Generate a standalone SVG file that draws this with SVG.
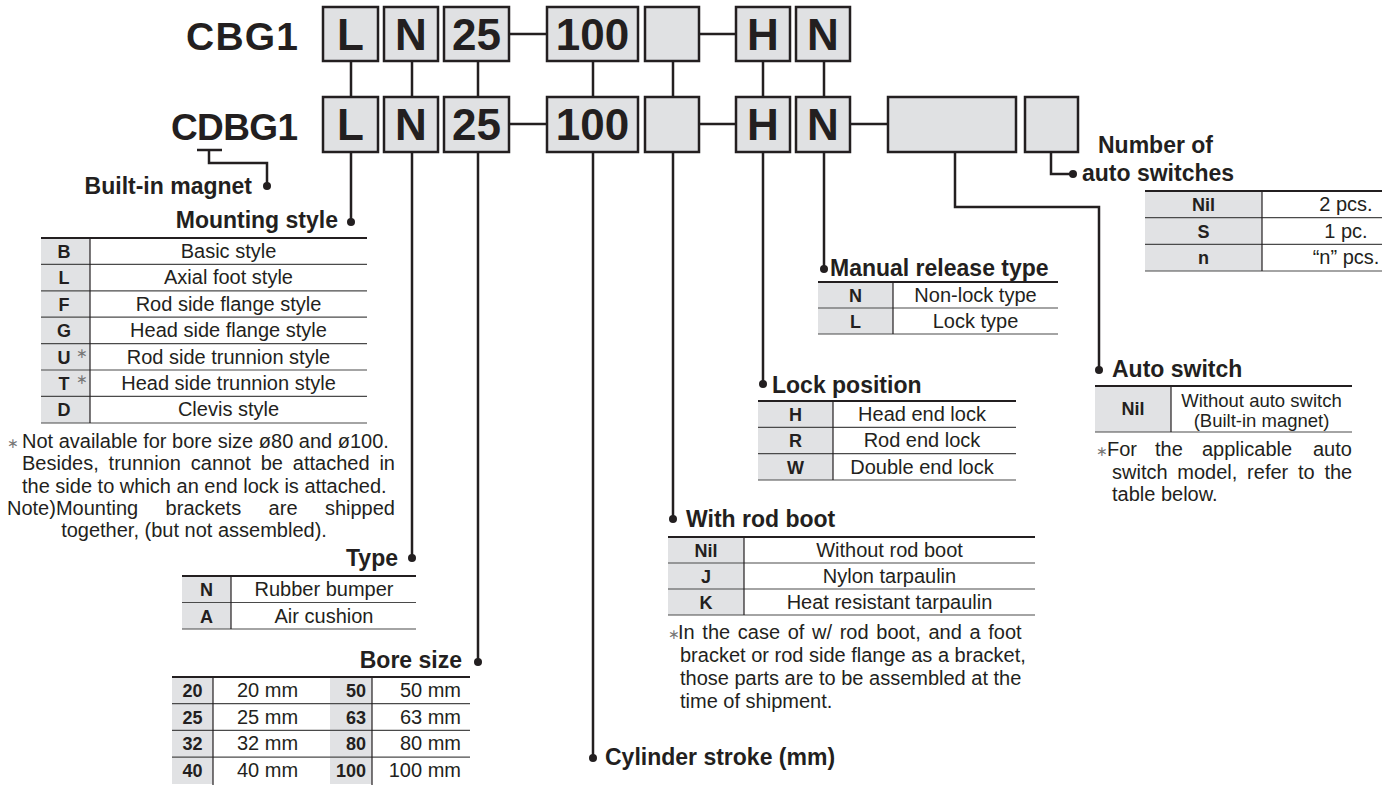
<svg xmlns="http://www.w3.org/2000/svg" width="1382" height="785" viewBox="0 0 1382 785">
<defs><style>
text{font-family:"Liberation Sans",Arial,Helvetica,sans-serif;fill:#231f20}
.box{fill:#e0e1e3;stroke:#231f20;stroke-width:2.5}
.big{font-size:44px;font-weight:bold;text-anchor:middle}
.model{font-weight:bold;text-anchor:end}
.h{font-size:23px;font-weight:bold}
.t{font-size:20px}
.c{text-anchor:middle}
.k{font-size:18px;font-weight:bold;text-anchor:middle}
.e{text-anchor:end}
.kc{fill:#e1e2e4}
.tl{stroke:#231f20;stroke-width:2.2}
.rl{stroke:#4a4a4a;stroke-width:1.2}
.vl{stroke:#231f20;stroke-width:1.2}
.conn{fill:none;stroke:#231f20;stroke-width:2.5}
.dot{fill:#231f20}
.ast{font-size:14px;fill:#777}
</style></defs>
<rect width="1382" height="785" fill="#fff"/>

<g id="connectors">
<path class="conn" d="M509,34H547M699,34H736M509,124H547M699,124H736M850,124H888"/>
<path class="conn" d="M197,150H222M209,150V163H267V186"/>
<path class="conn" d="M351,61V97M351,152V222"/>
<path class="conn" d="M412,61V97M412,152V558"/>
<path class="conn" d="M478,61V97M478,152V662"/>
<path class="conn" d="M593,61V97M593,152V758"/>
<path class="conn" d="M673,61V97M673,152V519"/>
<path class="conn" d="M763,61V97M763,152V384"/>
<path class="conn" d="M824,61V97M824,152V269"/>
<path class="conn" d="M955,152V207H1099V370"/>
<path class="conn" d="M1051,152V174H1073"/>
<circle class="dot" cx="267" cy="186" r="4"/>
<circle class="dot" cx="351" cy="222" r="4"/>
<circle class="dot" cx="412" cy="558" r="4"/>
<circle class="dot" cx="478" cy="662" r="4"/>
<circle class="dot" cx="593" cy="758" r="4"/>
<circle class="dot" cx="673" cy="519" r="4"/>
<circle class="dot" cx="763" cy="384" r="4"/>
<circle class="dot" cx="824" cy="269" r="4"/>
<circle class="dot" cx="1099" cy="370" r="4"/>
<circle class="dot" cx="1073" cy="174" r="4"/>
</g>

<g id="row-cbg1">
<text class="model" x="298" y="50" font-size="39" textLength="112">CBG1</text>
<g id="r1-L"><rect class="box" x="323" y="7" width="55" height="54"/><text class="big" x="350.5" y="50">L</text></g>
<g id="r1-N"><rect class="box" x="384" y="7" width="54" height="54"/><text class="big" x="411" y="50">N</text></g>
<g id="r1-25"><rect class="box" x="444" y="7" width="65" height="54"/><text class="big" x="476.5" y="50">25</text></g>
<g id="r1-100"><rect class="box" x="547" y="7" width="91" height="54"/><text class="big" x="592.5" y="50">100</text></g>
<g id="r1-boot"><rect class="box" x="645" y="7" width="54" height="54"/></g>
<g id="r1-H"><rect class="box" x="736" y="7" width="54" height="54"/><text class="big" x="763" y="50">H</text></g>
<g id="r1-N2"><rect class="box" x="796" y="7" width="54" height="54"/><text class="big" x="823" y="50">N</text></g>
</g>

<g id="row-cdbg1">
<text class="model" x="298" y="140" font-size="37" textLength="127">CDBG1</text>
<g id="r2-L"><rect class="box" x="323" y="97" width="55" height="55"/><text class="big" x="350.5" y="140">L</text></g>
<g id="r2-N"><rect class="box" x="384" y="97" width="54" height="55"/><text class="big" x="411" y="140">N</text></g>
<g id="r2-25"><rect class="box" x="444" y="97" width="65" height="55"/><text class="big" x="476.5" y="140">25</text></g>
<g id="r2-100"><rect class="box" x="547" y="97" width="91" height="55"/><text class="big" x="592.5" y="140">100</text></g>
<g id="r2-boot"><rect class="box" x="645" y="97" width="54" height="55"/></g>
<g id="r2-H"><rect class="box" x="736" y="97" width="54" height="55"/><text class="big" x="763" y="140">H</text></g>
<g id="r2-N2"><rect class="box" x="796" y="97" width="54" height="55"/><text class="big" x="823" y="140">N</text></g>
<g id="r2-switch"><rect class="box" x="888" y="97" width="128" height="55"/></g>
<g id="r2-num"><rect class="box" x="1025" y="97" width="53" height="55"/></g>
</g>

<g id="built-in-magnet">
<text class="h e" x="252" y="194">Built-in magnet</text>
</g>

<g id="mounting-style">
<text class="h e" x="338" y="228">Mounting style</text>
<rect class="kc" x="41" y="238" width="49" height="185"/>
<line class="rl" x1="41" y1="264.4" x2="367" y2="264.4"/>
<line class="rl" x1="41" y1="290.8" x2="367" y2="290.8"/>
<line class="rl" x1="41" y1="317.2" x2="367" y2="317.2"/>
<line class="rl" x1="41" y1="343.6" x2="367" y2="343.6"/>
<line class="rl" x1="41" y1="370" x2="367" y2="370"/>
<line class="rl" x1="41" y1="396.4" x2="367" y2="396.4"/>
<line class="rl" x1="41" y1="423" x2="367" y2="423"/>
<line class="vl" x1="90" y1="238" x2="90" y2="423"/>
<line class="tl" x1="41" y1="238" x2="367" y2="238"/>
<text class="k" x="64" y="258">B</text>
<text class="k" x="64" y="284.4">L</text>
<text class="k" x="64" y="310.8">F</text>
<text class="k" x="64" y="337.2">G</text>
<text class="k" x="64" y="363.6">U</text>
<text class="k" x="64" y="390">T</text>
<text class="k" x="64" y="416.4">D</text>
<text class="ast" x="76" y="358">∗</text>
<text class="ast" x="76" y="384.4">∗</text>
<text class="t c" x="228.5" y="258">Basic style</text>
<text class="t c" x="228.5" y="284.4">Axial foot style</text>
<text class="t c" x="228.5" y="310.8">Rod side flange style</text>
<text class="t c" x="228.5" y="337.2">Head side flange style</text>
<text class="t c" x="228.5" y="363.6">Rod side trunnion style</text>
<text class="t c" x="228.5" y="390">Head side trunnion style</text>
<text class="t c" x="228.5" y="416.4">Clevis style</text>
<text class="ast" x="7" y="448">∗</text>
<text class="t" x="22" y="448">Not available for bore size ø80 and ø100.</text>
<text class="t" y="470"><tspan x="22">Besides,</tspan><tspan x="108.6">trunnion</tspan><tspan x="190.8">cannot</tspan><tspan x="260.7">be</tspan><tspan x="292.8">attached</tspan><tspan x="379.4">in</tspan></text>
<text class="t" x="22" y="493">the side to which an end lock is attached.</text>
<text class="t" y="515"><tspan x="7">Note)Mounting</tspan><tspan x="165.6">brackets</tspan><tspan x="268.6">are</tspan><tspan x="324.9">shipped</tspan></text>
<text class="t c" x="194" y="537">together, (but not assembled).</text>
</g>

<g id="type">
<text class="h e" x="398" y="566">Type</text>
<rect class="kc" x="182" y="576" width="49" height="53"/>
<line class="rl" x1="182" y1="602.5" x2="416" y2="602.5"/>
<line class="rl" x1="182" y1="629" x2="416" y2="629"/>
<line class="vl" x1="231" y1="576" x2="231" y2="629"/>
<line class="tl" x1="182" y1="576" x2="416" y2="576"/>
<text class="k" x="206.5" y="596">N</text>
<text class="k" x="206.5" y="622.5">A</text>
<text class="t c" x="324" y="596">Rubber bumper</text>
<text class="t c" x="324" y="622.5">Air cushion</text>
</g>

<g id="bore-size">
<text class="h e" x="462" y="668">Bore size</text>
<rect class="kc" x="172" y="677" width="41" height="107"/>
<rect class="kc" x="330" y="677" width="42" height="107"/>
<line class="rl" x1="172" y1="703.7" x2="470" y2="703.7"/>
<line class="rl" x1="172" y1="730.4" x2="470" y2="730.4"/>
<line class="rl" x1="172" y1="757.1" x2="470" y2="757.1"/>
<line class="vl" x1="213" y1="677" x2="213" y2="785"/>
<line class="vl" x1="372" y1="677" x2="372" y2="785"/>
<line class="tl" x1="172" y1="677" x2="470" y2="677"/>
<text class="k" x="192.5" y="697">20</text>
<text class="k" x="192.5" y="723.7">25</text>
<text class="k" x="192.5" y="750.4">32</text>
<text class="k" x="192.5" y="777.1">40</text>
<text class="t" x="237" y="697">20 mm</text>
<text class="t" x="237" y="723.7">25 mm</text>
<text class="t" x="237" y="750.4">32 mm</text>
<text class="t" x="237" y="777.1">40 mm</text>
<text class="k e" x="366" y="697">50</text>
<text class="k e" x="366" y="723.7">63</text>
<text class="k e" x="366" y="750.4">80</text>
<text class="k e" x="366" y="777.1">100</text>
<text class="t e" x="461" y="697">50 mm</text>
<text class="t e" x="461" y="723.7">63 mm</text>
<text class="t e" x="461" y="750.4">80 mm</text>
<text class="t e" x="461" y="777.1">100 mm</text>
</g>

<g id="cylinder-stroke">
<text class="h" x="605" y="765">Cylinder stroke (mm)</text>
</g>

<g id="rod-boot">
<text class="h" x="686" y="527">With rod boot</text>
<rect class="kc" x="668" y="537" width="76" height="78"/>
<line class="rl" x1="668" y1="563" x2="1035" y2="563"/>
<line class="rl" x1="668" y1="589" x2="1035" y2="589"/>
<line class="rl" x1="668" y1="615" x2="1035" y2="615"/>
<line class="vl" x1="744" y1="537" x2="744" y2="615"/>
<line class="tl" x1="668" y1="537" x2="1035" y2="537"/>
<text class="k" x="706" y="557">Nil</text>
<text class="k" x="706" y="583">J</text>
<text class="k" x="706" y="609">K</text>
<text class="t c" x="889.5" y="557">Without rod boot</text>
<text class="t c" x="889.5" y="583">Nylon tarpaulin</text>
<text class="t c" x="889.5" y="609">Heat resistant tarpaulin</text>
<text class="ast" x="668" y="639">∗</text>
<text class="t" x="678" y="639" word-spacing="2.1">In the case of w/ rod boot, and a foot</text>
<text class="t" x="680" y="662">bracket or rod side flange as a bracket,</text>
<text class="t" x="680" y="685">those parts are to be assembled at the</text>
<text class="t" x="680" y="708">time of shipment.</text>
</g>

<g id="lock-position">
<text class="h" x="772" y="393">Lock position</text>
<rect class="kc" x="758" y="401" width="75" height="79"/>
<line class="rl" x1="758" y1="427.3" x2="1016" y2="427.3"/>
<line class="rl" x1="758" y1="453.6" x2="1016" y2="453.6"/>
<line class="rl" x1="758" y1="480" x2="1016" y2="480"/>
<line class="vl" x1="833" y1="401" x2="833" y2="480"/>
<line class="tl" x1="758" y1="401" x2="1016" y2="401"/>
<text class="k" x="795.5" y="421">H</text>
<text class="k" x="795.5" y="447.3">R</text>
<text class="k" x="795.5" y="473.6">W</text>
<text class="t c" x="922" y="421">Head end lock</text>
<text class="t c" x="922" y="447.3">Rod end lock</text>
<text class="t c" x="922" y="473.6">Double end lock</text>
</g>

<g id="manual-release">
<text class="h" x="830" y="276">Manual release type</text>
<rect class="kc" x="818" y="282" width="75" height="52"/>
<line class="rl" x1="818" y1="308" x2="1058" y2="308"/>
<line class="rl" x1="818" y1="334" x2="1058" y2="334"/>
<line class="vl" x1="893" y1="282" x2="893" y2="334"/>
<line class="tl" x1="818" y1="282" x2="1058" y2="282"/>
<text class="k" x="855.5" y="302">N</text>
<text class="k" x="855.5" y="328">L</text>
<text class="t c" x="975.5" y="302">Non-lock type</text>
<text class="t c" x="975.5" y="328">Lock type</text>
</g>

<g id="auto-switch">
<text class="h" x="1112" y="377">Auto switch</text>
<rect class="kc" x="1095" y="386" width="76" height="46"/>
<line class="rl" x1="1095" y1="432" x2="1352" y2="432"/>
<line class="vl" x1="1171" y1="386" x2="1171" y2="432"/>
<line class="tl" x1="1095" y1="386" x2="1352" y2="386"/>
<text class="k" x="1133" y="415">Nil</text>
<text class="c" x="1261.5" y="406.5" font-size="18.5">Without auto switch</text>
<text class="c" x="1261.5" y="426.5" font-size="18.5">(Built-in magnet)</text>
<text class="ast" x="1096" y="456">∗</text>
<text class="t" y="456"><tspan x="1107">For</tspan><tspan x="1155">the</tspan><tspan x="1202">applicable</tspan><tspan x="1313">auto</tspan></text>
<text class="t" x="1112" y="478.5" word-spacing="4.2">switch model, refer to the</text>
<text class="t" x="1112" y="501">table below.</text>
</g>

<g id="number-of-switches">
<text class="h" x="1098" y="153">Number of</text>
<text class="h" x="1082" y="181">auto switches</text>
<rect class="kc" x="1145" y="191" width="117" height="80"/>
<line class="rl" x1="1145" y1="217.7" x2="1382" y2="217.7"/>
<line class="rl" x1="1145" y1="244.3" x2="1382" y2="244.3"/>
<line class="rl" x1="1145" y1="271" x2="1382" y2="271"/>
<line class="vl" x1="1262" y1="191" x2="1262" y2="271"/>
<line class="tl" x1="1145" y1="191" x2="1382" y2="191"/>
<text class="k" x="1203.5" y="211">Nil</text>
<text class="k" x="1203.5" y="237.7">S</text>
<text class="k" x="1203.5" y="264.3">n</text>
<text class="t c" x="1346" y="211">2 pcs.</text>
<text class="t c" x="1346" y="237.7">1 pc.</text>
<text class="t c" x="1346" y="264.3">“n” pcs.</text>
</g>
</svg>
